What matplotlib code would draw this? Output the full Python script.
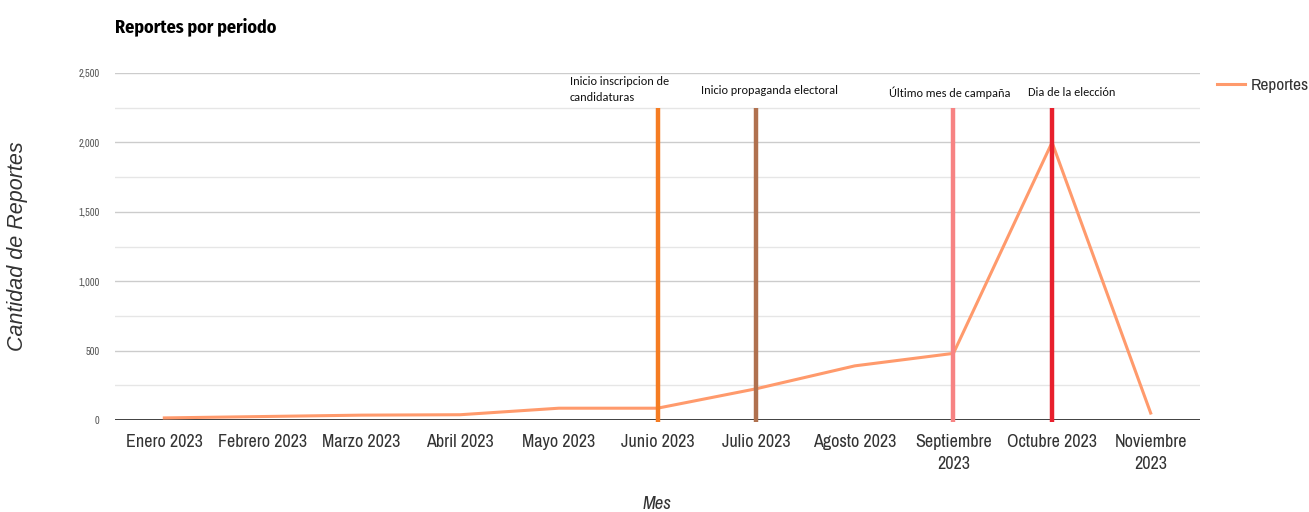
import matplotlib
matplotlib.use("Agg")
import matplotlib.pyplot as plt
from matplotlib.ticker import MultipleLocator, FuncFormatter

NARROW = ["Archivo Narrow", "DejaVu Sans"]
CALIBRI = ["Carlito", "DejaVu Sans"]
plt.rcParams["font.family"] = NARROW

# data
meses = ["Enero 2023", "Febrero 2023", "Marzo 2023", "Abril 2023", "Mayo 2023",
         "Junio 2023", "Julio 2023", "Agosto 2023", "Septiembre\n2023",
         "Octubre 2023", "Noviembre\n2023"]
reportes = [15, 25, 35, 38, 85, 85, 225, 390, 480, 2000, 50]

# events (month index, label, colour)
evento_idx = [5, 6, 8, 9]
evento_txt = ["Inicio inscripcion de\ncandidaturas", "Inicio propaganda electoral",
              "Último mes de campaña", "Dia de la elección"]
evento_col = ["#f57c22", "#b0714f", "#f78383", "#e8202d"]
evento_top = 2250

fig = plt.figure(figsize=(13.09, 5.12), dpi=100)
ax = fig.add_axes([115 / 1309, 92 / 512, 1085 / 1309, 347 / 512])

x = list(range(len(meses)))
ax.plot(x, reportes, color="#ff9a6c", lw=2.2, label="Reportes", zorder=3)

for i, col in zip(evento_idx, evento_col):
    ax.vlines(i, -15, evento_top, color=col, lw=3.2, zorder=4, clip_on=False)

# annotation text positions (left edge offset from the event month, top)
txt_dx = [-0.89, -0.56, -0.65, -0.245]
txt_y = [2480, 2410, 2400, 2400]
for i, t, dx, yy in zip(evento_idx, evento_txt, txt_dx, txt_y):
    ax.text(i + dx, yy, t, fontsize=8.8, color="#111111", ha="left", va="top",
            family=CALIBRI, linespacing=1.6, zorder=5)

ax.set_xlim(-0.5, len(meses) - 0.5)
ax.set_ylim(0, 2500)
ax.set_xticks(x)
ax.set_xticklabels(meses, fontsize=13, color="#333333", linespacing=1.5)
ax.tick_params(axis="x", length=0, pad=10)
ax.yaxis.set_major_locator(MultipleLocator(500))
ax.yaxis.set_minor_locator(MultipleLocator(250))
ax.yaxis.set_major_formatter(FuncFormatter(lambda v, p: f"{int(v):,}"))
ax.tick_params(axis="y", which="both", length=0, labelsize=7.5, labelcolor="#555555", pad=11)
ax.grid(axis="y", which="major", color="#cccccc", lw=1)
ax.grid(axis="y", which="minor", color="#e6e6e6", lw=1)
ax.set_axisbelow(True)
for s in ax.spines.values():
    s.set_visible(False)
ax.axhline(0, color="#333333", lw=1.3, zorder=2)

ax.set_xlabel("Mes", fontsize=13.5, style="italic", color="#333333", labelpad=17)
fig.text(18 / 1309, 1 - 246 / 512, "Cantidad de Reportes", rotation=90, fontsize=15.5,
         style="italic", color="#333333", ha="center", va="center",
         family=["Liberation Sans", "DejaVu Sans"])
fig.text(115 / 1309, 1 - 27 / 512, "Reportes por periodo", fontsize=13,
         fontweight="bold", color="#000000", ha="left", va="center",
         family=["Fira Sans Condensed", "Roboto Condensed", "DejaVu Sans"])

leg = fig.legend(*ax.get_legend_handles_labels(), loc="center left",
                 bbox_to_anchor=(1208 / 1309, 1 - 85 / 512), frameon=False,
                 fontsize=12.5, handlelength=1.65, handletextpad=0.3,
                 borderaxespad=0, borderpad=0.5)
for t in leg.get_texts():
    t.set_color("#333333")

fig.savefig("out.png", dpi=100)
